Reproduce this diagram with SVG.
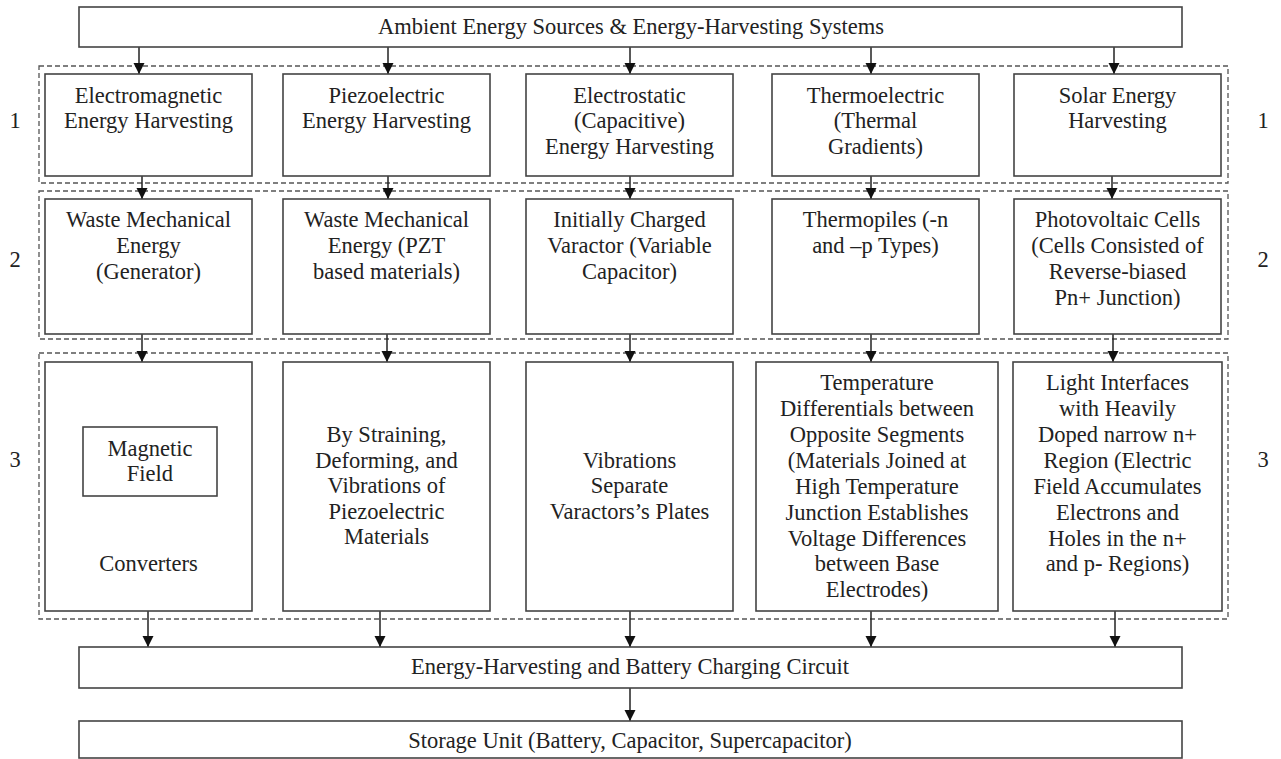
<svg xmlns="http://www.w3.org/2000/svg" width="1281" height="759" viewBox="0 0 1281 759">
<style>
.box{fill:#fff;stroke:#444;stroke-width:1.6}
.grp{fill:none;stroke:#555;stroke-width:1.3;stroke-dasharray:5 3}
.t{font-size:22.5px;fill:#222;text-anchor:middle}
.c{stroke:#222;stroke-width:1.5;fill:none;marker-end:url(#ah)}
</style>
<defs>
<marker id="ah" markerUnits="userSpaceOnUse" markerWidth="12" markerHeight="12" refX="11" refY="5.5" orient="auto">
<path d="M0,0 L11,5.5 L0,11 z" fill="#111"/>
</marker>
</defs>
<rect width="1281" height="759" fill="#fff"/>

<g id="groups">
<rect class="grp" x="39" y="66" width="1189" height="117"/>
<rect class="grp" x="39" y="191" width="1189" height="148"/>
<rect class="grp" x="39" y="353" width="1189" height="266"/>
</g>

<g id="connectors">
<line class="c" x1="139" y1="47" x2="139" y2="74"/>
<line class="c" x1="388" y1="47" x2="388" y2="74"/>
<line class="c" x1="630" y1="47" x2="630" y2="74"/>
<line class="c" x1="871" y1="47" x2="871" y2="74"/>
<line class="c" x1="1114" y1="47" x2="1114" y2="74"/>

<line class="c" x1="142" y1="176" x2="142" y2="199"/>
<line class="c" x1="388" y1="176" x2="388" y2="199"/>
<line class="c" x1="630" y1="176" x2="630" y2="199"/>
<line class="c" x1="871" y1="176" x2="871" y2="199"/>
<line class="c" x1="1112" y1="176" x2="1112" y2="199"/>

<line class="c" x1="142" y1="334" x2="142" y2="362"/>
<line class="c" x1="387" y1="334" x2="387" y2="362"/>
<line class="c" x1="630" y1="334" x2="630" y2="362"/>
<line class="c" x1="871" y1="334" x2="871" y2="362"/>
<line class="c" x1="1113" y1="334" x2="1113" y2="362"/>

<line class="c" x1="148" y1="611" x2="148" y2="647"/>
<line class="c" x1="380" y1="611" x2="380" y2="647"/>
<line class="c" x1="630" y1="611" x2="630" y2="647"/>
<line class="c" x1="871" y1="611" x2="871" y2="647"/>
<line class="c" x1="1115" y1="611" x2="1115" y2="647"/>

<line class="c" x1="630" y1="688" x2="630" y2="721"/>
</g>

<g font-family="Liberation Serif, Times New Roman, DejaVu Serif, serif">
<g id="level-labels">
<text class="t" x="15" y="128">1</text>
<text class="t" x="1263" y="128">1</text>
<text class="t" x="15" y="267">2</text>
<text class="t" x="1263" y="267">2</text>
<text class="t" x="15" y="467">3</text>
<text class="t" x="1263" y="467">3</text>
</g>

<g id="top">
<rect class="box" x="79" y="7" width="1103" height="40"/>
<text class="t" x="631" y="34">Ambient Energy Sources &amp; Energy-Harvesting Systems</text>
</g>

<g id="electromagnetic">
<rect class="box" x="45" y="74" width="207" height="102"/>
<text class="t"><tspan x="148.5" y="102.5">Electromagnetic</tspan><tspan x="148.5" y="128">Energy Harvesting</tspan></text>
</g>
<g id="piezoelectric">
<rect class="box" x="283" y="74" width="207" height="102"/>
<text class="t"><tspan x="386.5" y="102.5">Piezoelectric</tspan><tspan x="386.5" y="128">Energy Harvesting</tspan></text>
</g>
<g id="electrostatic">
<rect class="box" x="526" y="74" width="207" height="102"/>
<text class="t"><tspan x="629.5" y="102.5">Electrostatic</tspan><tspan x="629.5" y="128">(Capacitive)</tspan><tspan x="629.5" y="153.5">Energy Harvesting</tspan></text>
</g>
<g id="thermoelectric">
<rect class="box" x="772" y="74" width="207" height="102"/>
<text class="t"><tspan x="875.5" y="102.5">Thermoelectric</tspan><tspan x="875.5" y="128">(Thermal</tspan><tspan x="875.5" y="153.5">Gradients)</tspan></text>
</g>
<g id="solar">
<rect class="box" x="1014" y="74" width="207" height="102"/>
<text class="t"><tspan x="1117.5" y="102.5">Solar Energy</tspan><tspan x="1117.5" y="128">Harvesting</tspan></text>
</g>

<g id="waste-generator">
<rect class="box" x="45" y="199" width="207" height="135"/>
<text class="t"><tspan x="148.5" y="227">Waste Mechanical</tspan><tspan x="148.5" y="253">Energy</tspan><tspan x="148.5" y="279">(Generator)</tspan></text>
</g>
<g id="waste-pzt">
<rect class="box" x="283" y="199" width="207" height="135"/>
<text class="t"><tspan x="386.5" y="227">Waste Mechanical</tspan><tspan x="386.5" y="253">Energy (PZT</tspan><tspan x="386.5" y="279">based materials)</tspan></text>
</g>
<g id="varactor">
<rect class="box" x="526" y="199" width="207" height="135"/>
<text class="t"><tspan x="629.5" y="227">Initially Charged</tspan><tspan x="629.5" y="253">Varactor (Variable</tspan><tspan x="629.5" y="279">Capacitor)</tspan></text>
</g>
<g id="thermopiles">
<rect class="box" x="772" y="199" width="207" height="135"/>
<text class="t"><tspan x="875.5" y="227">Thermopiles (-n</tspan><tspan x="875.5" y="253">and –p Types)</tspan></text>
</g>
<g id="photovoltaic">
<rect class="box" x="1014" y="199" width="207" height="135"/>
<text class="t"><tspan x="1117.5" y="227">Photovoltaic Cells</tspan><tspan x="1117.5" y="253">(Cells Consisted of</tspan><tspan x="1117.5" y="279">Reverse-biased</tspan><tspan x="1117.5" y="305">Pn+ Junction)</tspan></text>
</g>

<g id="converters">
<rect class="box" x="45" y="362" width="207" height="249"/>
<rect class="box" x="83" y="427" width="134" height="69"/>
<text class="t"><tspan x="150" y="456">Magnetic</tspan><tspan x="150" y="480.5">Field</tspan></text>
<text class="t" x="148.5" y="571">Converters</text>
</g>
<g id="straining">
<rect class="box" x="283" y="362" width="207" height="249"/>
<text class="t"><tspan x="386.5" y="442">By Straining,</tspan><tspan x="386.5" y="467.5">Deforming, and</tspan><tspan x="386.5" y="493">Vibrations of</tspan><tspan x="386.5" y="518.5">Piezoelectric</tspan><tspan x="386.5" y="544">Materials</tspan></text>
</g>
<g id="vibrations">
<rect class="box" x="526" y="362" width="207" height="249"/>
<text class="t"><tspan x="629.5" y="467.5">Vibrations</tspan><tspan x="629.5" y="493">Separate</tspan><tspan x="629.5" y="518.5">Varactors’s Plates</tspan></text>
</g>
<g id="temperature">
<rect class="box" x="756" y="362" width="242" height="249"/>
<text class="t"><tspan x="877" y="390">Temperature</tspan><tspan x="877" y="416">Differentials between</tspan><tspan x="877" y="442">Opposite Segments</tspan><tspan x="877" y="468">(Materials Joined at</tspan><tspan x="877" y="494">High Temperature</tspan><tspan x="877" y="519.5">Junction Establishes</tspan><tspan x="877" y="545.5">Voltage Differences</tspan><tspan x="877" y="571">between Base</tspan><tspan x="877" y="597">Electrodes)</tspan></text>
</g>
<g id="light">
<rect class="box" x="1013" y="362" width="209" height="249"/>
<text class="t"><tspan x="1117.5" y="390">Light Interfaces</tspan><tspan x="1117.5" y="416">with Heavily</tspan><tspan x="1117.5" y="442">Doped narrow n+</tspan><tspan x="1117.5" y="468">Region (Electric</tspan><tspan x="1117.5" y="494">Field Accumulates</tspan><tspan x="1117.5" y="519.5">Electrons and</tspan><tspan x="1117.5" y="545.5">Holes in the n+</tspan><tspan x="1117.5" y="571">and p- Regions)</tspan></text>
</g>

<g id="charging">
<rect class="box" x="79" y="647" width="1103" height="41"/>
<text class="t" x="630" y="674">Energy-Harvesting and Battery Charging Circuit</text>
</g>
<g id="storage">
<rect class="box" x="79" y="721" width="1103" height="37"/>
<text class="t" x="630" y="748">Storage Unit (Battery, Capacitor, Supercapacitor)</text>
</g>
</g>
</svg>
